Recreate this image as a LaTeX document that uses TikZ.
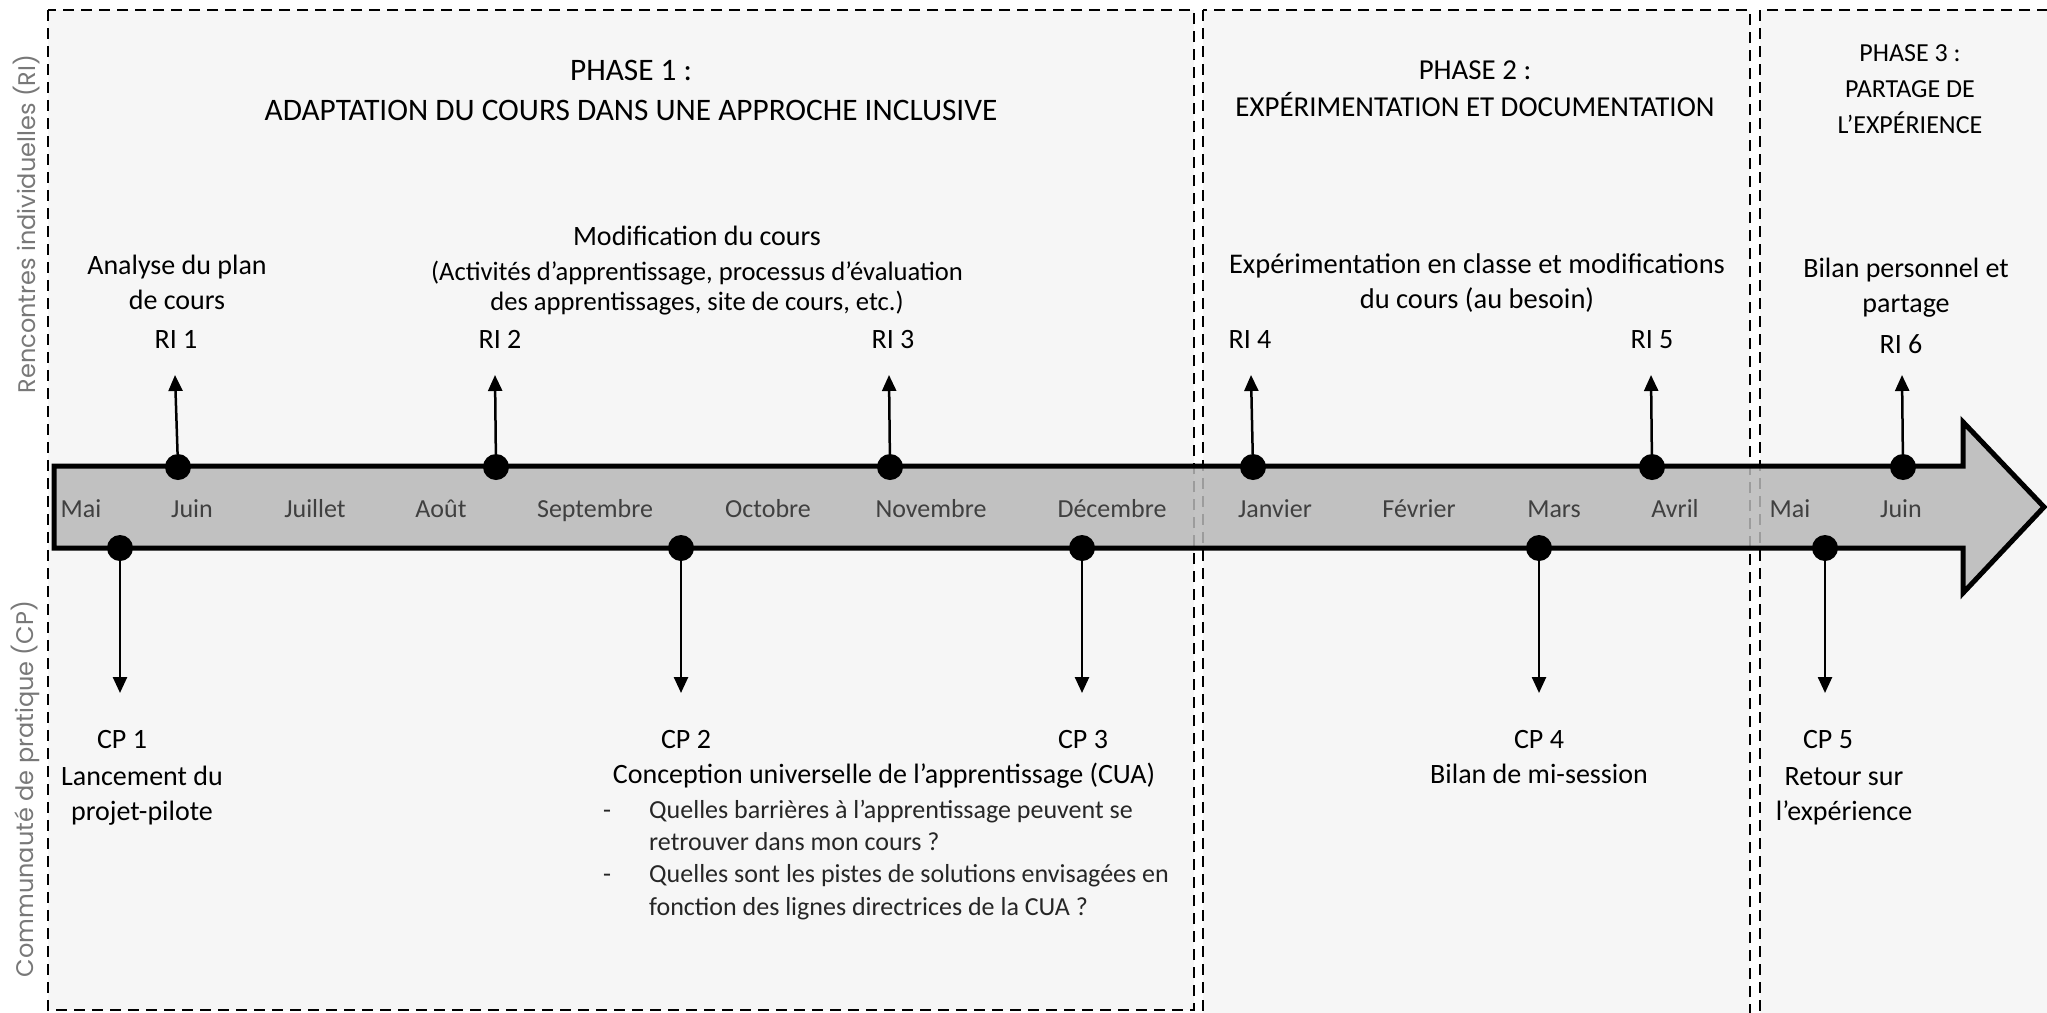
\documentclass[tikz,border=0pt]{standalone}
\usepackage{fontspec}
\setmainfont{Carlito}
\newfontfamily\sidefont{Poppins}
\usetikzlibrary{arrows.meta}

\definecolor{panelfill}{RGB}{246,246,246}
\definecolor{shaftfill}{RGB}{184,184,184}
\definecolor{monthtext}{RGB}{64,64,64}
\definecolor{sidetext}{RGB}{120,120,120}

\begin{document}
\begin{tikzpicture}[%
        x = 1pt, y = -1pt,
        phasebox/.style = {%
            draw, fill = panelfill, line width = 2.5pt,
            dash pattern = on 11pt off 7pt
        },
        shaft/.style = {%
            draw, line width = 5pt, fill = shaftfill,
            fill opacity = 0.85, line join = miter
        },
        dot/.style = {circle, fill = black, inner sep = 0pt, minimum size = 26pt},
        pin/.style = {line width = 2.5pt, -{Triangle[width = 14pt, length = 16pt]}},
        heading/.style = {anchor = base, align = center, font = \fontsize{31.3}{40}\selectfont},
        tag/.style = {anchor = base, align = center, font = \fontsize{28}{35}\selectfont},
        note/.style = {anchor = base, align = center, font = \fontsize{26.6}{30}\selectfont},
        month/.style = {anchor = base, text = monthtext, font = \fontsize{26}{31}\selectfont},
        bullets/.style = {anchor = base west, align = left, inner sep = 0pt,
            text = black!85, font = \fontsize{26}{32.3}\selectfont},
        side/.style = {rotate = 90, text = sidetext, font = \sidefont\fontsize{24}{28}\selectfont}
    ]

        % Page frame.
        \useasboundingbox (0,0) rectangle (2047,1012);
        \clip (0,0) rectangle (2047,1012);

        % Dashed panels for the three phases.
        \path[phasebox] (48,10) rectangle (1194,1010);
        \path[phasebox] (1203,10) rectangle (1750,1040);
        \path[phasebox] (1760,10) rectangle (2080,1040);

        % The time line itself.
        \path[shaft] (54,466) -- (1963,466) -- (1963,422) -- (2044,507)
            -- (1963,593) -- (1963,548) -- (54,548) -- cycle;

        % Months along the time line.
        \foreach \x/\name [count = \i] in {81/Mai, 192/Juin, 315/Juillet, 441/Août,
            595/Septembre, 768/Octobre, 931/Novembre, 1112/Décembre, 1275/Janvier,
            1419/Février, 1554/Mars, 1675/Avril, 1790/Mai, 1901/Juin}{%
            \node[month] (m\i) at (\x,517) {\name};
        }

        % Individual meetings (RI) above the line.
        \foreach \x/\t/\i in {178/175/1, 496/495/2, 890/889/3, 1253/1251/4,
            1652/1651/5, 1903/1902/6}{%
            \node[dot] (ri\i) at (\x,467) {};
            \coordinate (ri\i tip) at (\t,375);
            \draw[pin] (ri\i) -- (ri\i tip);
        }

        % Community of practice (CP) below the line.
        \foreach \x/\i in {120/1, 681/2, 1082/3, 1539/4, 1825/5}{%
            \node[dot] (cp\i) at (\x,548) {};
            \coordinate (cp\i tip) at (\x,693);
            \draw[pin] (cp\i) -- (cp\i tip);
        }

        % Phase titles (base = last line).
        \node[heading] (phase1) at (631,120) {PHASE 1 :\\ADAPTATION DU COURS DANS UNE APPROCHE INCLUSIVE};
        \node[heading, font = \fontsize{28.9}{37}\selectfont] (phase2) at (1475,116)
            {PHASE 2 :\\EXPÉRIMENTATION ET DOCUMENTATION};
        \node[heading, font = \fontsize{26}{36}\selectfont] (phase3) at (1910,133)
            {PHASE 3 :\\PARTAGE DE\\L’EXPÉRIENCE};

        % Labels for the meetings.
        \foreach \x/\y/\i in {176/348/1, 500/348/2, 893/348/3, 1250/348/4,
            1652/348/5, 1901/353/6}{%
            \node[tag] (ri\i lbl) at (\x,\y) {RI \i};
        }
        \node[tag] (plan) at (177,309) {Analyse du plan\\de cours};
        \node[tag] (modif) at (697,245) {Modification du cours};
        \node[note] (modifdetail) at (697,310)
            {(Activités d’apprentissage, processus d’évaluation\\des apprentissages, site de cours, etc.)};
        \node[tag, font = \fontsize{28.5}{35}\selectfont] (essai) at (1477,308)
            {Expérimentation en classe et modifications\\du cours (au besoin)};
        \node[tag] (bilan) at (1906,312) {Bilan personnel et\\partage};

        % Labels for the community of practice.
        \foreach \x/\i in {122/1, 686/2, 1083/3, 1539/4, 1828/5}{%
            \node[tag] (cp\i lbl) at (\x,748) {CP \i};
        }
        \node[tag] (lancement) at (142,820) {Lancement du\\projet-pilote};
        \node[tag] (cua) at (884,783) {Conception universelle de l’apprentissage (CUA)};
        \node[bullets] (questions) at (603,915)
            {\makebox[46pt][l]{-}Quelles barrières à l’apprentissage peuvent se\\
             \hspace*{46pt}retrouver dans mon cours ?\\
             \makebox[46pt][l]{-}Quelles sont les pistes de solutions envisagées en\\
             \hspace*{46pt}fonction des lignes directrices de la CUA ?};
        \node[tag] (misession) at (1539,783) {Bilan de mi-session};
        \node[tag] (retour) at (1844,820) {Retour sur\\l’expérience};

        % Side legends.
        \node[side] (rilegend) at (27,224) {Rencontres individuelles (RI)};
        \node[side] (cplegend) at (25,789) {Communauté de pratique (CP)};
    \end{tikzpicture}
\end{document}
